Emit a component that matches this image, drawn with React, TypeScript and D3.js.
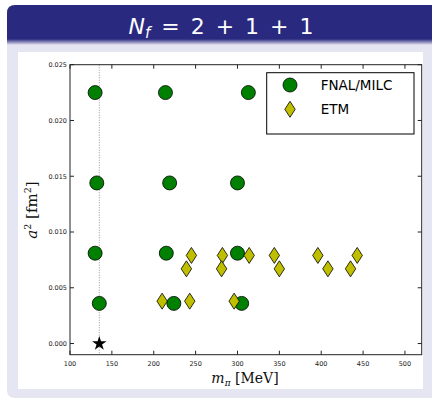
import React from "react";
import * as d3 from "d3";

// FNAL/MILC ensembles: pion mass [MeV] and squared lattice spacing [fm^2]
const fnalMpi = [130, 214, 313, 132, 219, 300, 130, 215, 300, 135, 224, 305];
const fnalA2 = [0.0225, 0.0225, 0.0225, 0.0144, 0.0144, 0.0144, 0.0081, 0.0081, 0.0081, 0.0036, 0.0036, 0.0036];

// ETM ensembles
const etmMpi = [245, 239, 282, 281, 314, 344, 350, 396, 408, 435, 443, 210, 243, 296];
const etmA2 = [0.0079, 0.0067, 0.0079, 0.0067, 0.0079, 0.0079, 0.0067, 0.0079, 0.0067, 0.0067, 0.0079, 0.0038, 0.0038, 0.0038];

// Physical point
const physMpi = [135];
const physA2 = [0.0];

const xTicks = [100, 150, 200, 250, 300, 350, 400, 450, 500];
const yTicks = [0.0, 0.005, 0.01, 0.015, 0.02, 0.025];

const W = 432;
const H = 399;
const plot = { left: 70, right: 421.7, top: 64.7, bottom: 354.7 };

export default function App() {
  const x = d3.scaleLinear().domain([100, 520]).range([plot.left, plot.right]);
  const y = d3.scaleLinear().domain([-0.001, 0.025]).range([plot.bottom, plot.top]);
  const fmtY = d3.format(".3f");

  const circle = d3.symbol().type(d3.symbolCircle).size(Math.PI * 7 * 7)();
  const diamondPath = "M0,-8 L5.2,0 L0,8 L-5.2,0 Z";
  const star = d3.symbol().type(d3.symbolStar).size(65)();

  const tickLen = 4;

  return (
    <svg
      width={W}
      height={H}
      style={{ position: "absolute", left: 0, top: 0, display: "block" }}
    >
      <defs>
        <linearGradient id="titleShade" x1="0" y1="0" x2="0" y2="1">
          <stop offset="0" stopColor="#29297f" />
          <stop offset="1" stopColor="#e6e6f2" />
        </linearGradient>
      </defs>
      <rect x={0} y={0} width={W} height={H} fill="#ffffff" />
      {/* block body */}
      <path
        d={`M7,40 H${W} V398 H15 Q7,398 7,390 Z`}
        fill="#e6e6f2"
      />
      {/* title bar */}
      <path d={`M7,40 V13 Q7,5 15,5 H${W} V40 Z`} fill="#29297f" />
      <rect x={7} y={39} width={W - 7} height={6} fill="url(#titleShade)" />
      <text
        x={221}
        y={34}
        textAnchor="middle"
        fill="#ffffff"
        fontFamily="DejaVu Sans, sans-serif"
        fontSize={22}
      >
        <tspan fontStyle="italic">N</tspan>
        <tspan fontStyle="italic" fontSize={15} dy={4}>f</tspan>
        <tspan dy={-4}>{"\u2002=\u20022\u2002+\u20021\u2002+\u20021"}</tspan>
      </text>

      {/* figure area */}
      <rect x={18} y={52} width={405} height={337} fill="#ffffff" />

      {/* physical pion mass guide */}
      <line
        x1={x(135)}
        x2={x(135)}
        y1={plot.top}
        y2={plot.bottom}
        stroke="#999"
        strokeWidth={1}
        strokeDasharray="1,1.5"
      />

      {/* frame */}
      <rect
        x={plot.left}
        y={plot.top}
        width={plot.right - plot.left}
        height={plot.bottom - plot.top}
        fill="none"
        stroke="#222"
        strokeWidth={1}
      />

      {/* ticks */}
      {xTicks.map((t) => (
        <g key={"xt" + t}>
          <line x1={x(t)} x2={x(t)} y1={plot.bottom} y2={plot.bottom - tickLen} stroke="#222" />
          <line x1={x(t)} x2={x(t)} y1={plot.top} y2={plot.top + tickLen} stroke="#222" />
          <text
            x={x(t)}
            y={plot.bottom + 11}
            textAnchor="middle"
            fontFamily="DejaVu Sans, sans-serif"
            fontSize={6.5}
            fill="#222"
          >
            {t}
          </text>
        </g>
      ))}
      {yTicks.map((t) => (
        <g key={"yt" + t}>
          <line x1={plot.left} x2={plot.left + tickLen} y1={y(t)} y2={y(t)} stroke="#222" />
          <line x1={plot.right} x2={plot.right - tickLen} y1={y(t)} y2={y(t)} stroke="#222" />
          <text
            x={plot.left - 3}
            y={y(t) + 2.3}
            textAnchor="end"
            fontFamily="DejaVu Sans, sans-serif"
            fontSize={6.5}
            fill="#222"
          >
            {fmtY(t)}
          </text>
        </g>
      ))}

      {/* axis labels */}
      <text
        x={245}
        y={383}
        textAnchor="middle"
        fontFamily="DejaVu Serif, serif"
        fontSize={14}
        fill="#111"
      >
        <tspan fontStyle="italic">m</tspan>
        <tspan fontStyle="italic" fontSize={9} dy={3}>π</tspan>
        <tspan dy={-3}>{" [MeV]"}</tspan>
      </text>
      <text
        transform={`translate(37,210) rotate(-90)`}
        textAnchor="middle"
        fontFamily="DejaVu Serif, serif"
        fontSize={15}
        fill="#111"
      >
        <tspan fontStyle="italic">a</tspan>
        <tspan fontSize={9.5} dy={-6}>2</tspan>
        <tspan dy={6}>{" [fm"}</tspan>
        <tspan fontSize={9.5} dy={-6}>2</tspan>
        <tspan dy={6}>]</tspan>
      </text>

      {/* FNAL/MILC */}
      {fnalMpi.map((m, i) => (
        <path
          key={"f" + i}
          d={circle!}
          transform={`translate(${x(m)},${y(fnalA2[i])})`}
          fill="#008000"
          stroke="#000"
          strokeWidth={0.8}
        />
      ))}
      {/* ETM */}
      {etmMpi.map((m, i) => (
        <path
          key={"e" + i}
          d={diamondPath}
          transform={`translate(${x(m)},${y(etmA2[i])})`}
          fill="#bfbf00"
          stroke="#000"
          strokeWidth={0.8}
        />
      ))}
      {/* physical point */}
      {physMpi.map((m, i) => (
        <path
          key={"p" + i}
          d={star!}
          transform={`translate(${x(m)},${y(physA2[i])})`}
          fill="#000"
        />
      ))}

      {/* legend */}
      <rect x={266.7} y={72.7} width={147.3} height={61.3} fill="#fff" stroke="#000" strokeWidth={1} />
      <path d={circle!} transform="translate(290,85)" fill="#008000" stroke="#000" strokeWidth={0.8} />
      <text x={320.7} y={90} fontFamily="DejaVu Sans, sans-serif" fontSize={13.5} fill="#000">
        FNAL/MILC
      </text>
      <path d={diamondPath} transform="translate(290,109.3)" fill="#bfbf00" stroke="#000" strokeWidth={0.8} />
      <text x={320.7} y={114.3} fontFamily="DejaVu Sans, sans-serif" fontSize={13.5} fill="#000">
        ETM
      </text>
    </svg>
  );
}
